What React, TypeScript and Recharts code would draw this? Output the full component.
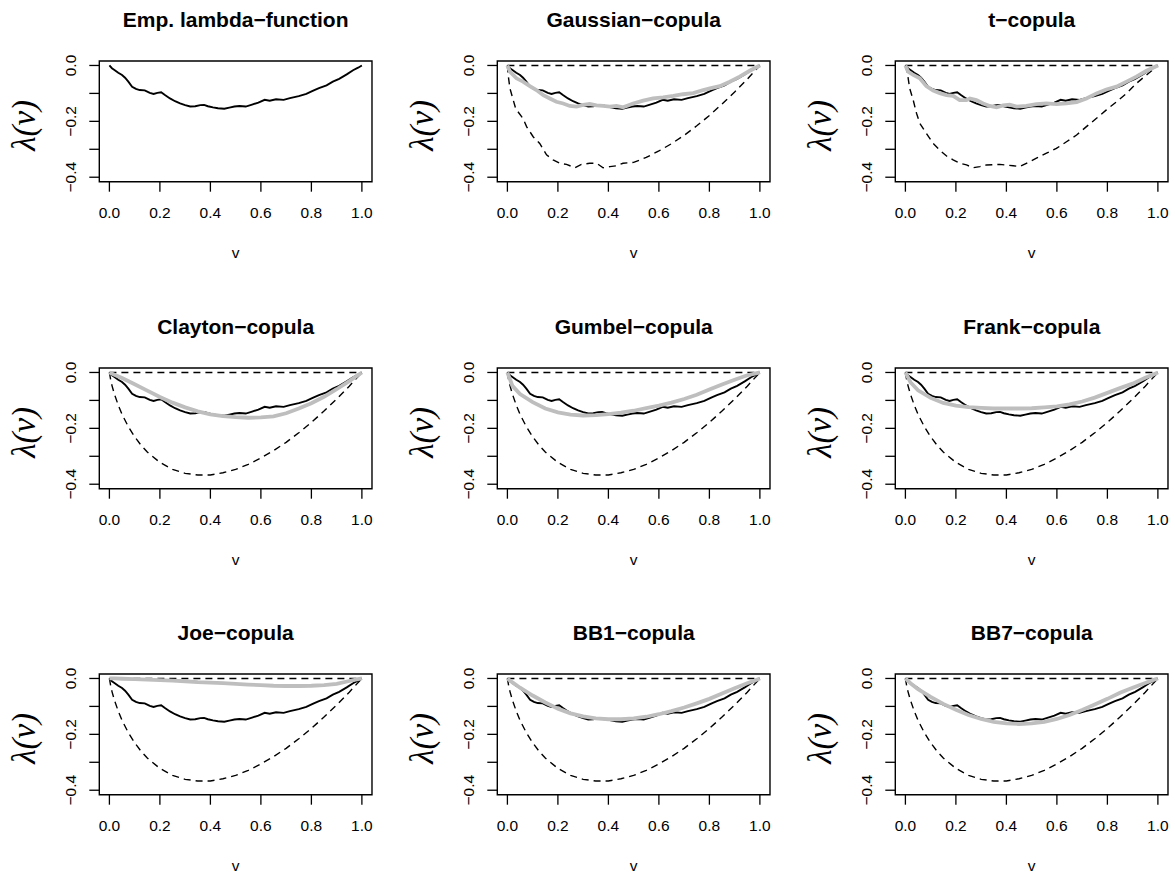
import { LineChart, Line, XAxis, YAxis, ReferenceArea, Label } from 'recharts';

const vTicks = [0, 0.2, 0.4, 0.6, 0.8, 1];
const lambdaTicks = [-0.4, -0.3, -0.2, -0.1, 0];
const titles = [
  'Emp. lambda\u2212function', 'Gaussian\u2212copula', 't\u2212copula',
  'Clayton\u2212copula', 'Gumbel\u2212copula', 'Frank\u2212copula',
  'Joe\u2212copula', 'BB1\u2212copula', 'BB7\u2212copula',
];

// empirical lambda-function (same black line in every panel)
const empV = [0, 0.01, 0.02, 0.035, 0.05, 0.062, 0.075, 0.09, 0.105, 0.12, 0.14, 0.16, 0.175, 0.19, 0.205, 0.22, 0.24, 0.26, 0.28, 0.3, 0.32, 0.34, 0.36, 0.375, 0.39, 0.41, 0.43, 0.455, 0.475, 0.495, 0.515, 0.54, 0.565, 0.59, 0.615, 0.635, 0.66, 0.69, 0.715, 0.75, 0.78, 0.805, 0.83, 0.86, 0.885, 0.91, 0.94, 0.965, 0.985, 1];
const empLambda = [0, -0.01, -0.016, -0.026, -0.034, -0.044, -0.058, -0.076, -0.084, -0.088, -0.089, -0.098, -0.102, -0.098, -0.096, -0.106, -0.118, -0.128, -0.136, -0.142, -0.147, -0.146, -0.142, -0.141, -0.146, -0.15, -0.153, -0.155, -0.151, -0.147, -0.145, -0.147, -0.14, -0.133, -0.123, -0.126, -0.121, -0.123, -0.117, -0.11, -0.102, -0.091, -0.081, -0.071, -0.058, -0.048, -0.032, -0.017, -0.008, 0];

// upper bound (independence) and lower bound (comonotonic)
const upperV = [0, 1];
const upperLambda = [0, 0];
const lowerV = [0, 0.005, 0.01, 0.02, 0.035, 0.05, 0.075, 0.1, 0.125, 0.15, 0.2, 0.25, 0.3, 0.35, 0.4, 0.45, 0.5, 0.55, 0.6, 0.65, 0.7, 0.75, 0.8, 0.85, 0.9, 0.95, 1];
const lowerLambda = [0, -0.026, -0.046, -0.078, -0.117, -0.15, -0.194, -0.23, -0.26, -0.285, -0.322, -0.347, -0.361, -0.367, -0.367, -0.359, -0.347, -0.329, -0.306, -0.28, -0.25, -0.216, -0.179, -0.138, -0.095, -0.049, 0];

// simulated lower curves in the elliptical panels
const gaussLowerV = [0, 0.003, 0.01, 0.033, 0.062, 0.076, 0.102, 0.128, 0.155, 0.181, 0.208, 0.234, 0.267, 0.293, 0.326, 0.353, 0.379, 0.406, 0.432, 0.458, 0.5, 0.55, 0.6, 0.65, 0.7, 0.75, 0.8, 0.85, 0.9, 0.95, 1];
const gaussLowerLambda = [0, -0.034, -0.082, -0.155, -0.19, -0.219, -0.255, -0.279, -0.32, -0.338, -0.35, -0.354, -0.366, -0.354, -0.35, -0.35, -0.366, -0.362, -0.359, -0.35, -0.347, -0.329, -0.306, -0.28, -0.25, -0.216, -0.179, -0.138, -0.095, -0.049, 0];
const tLowerV = [0, 0.008, 0.017, 0.031, 0.044, 0.057, 0.083, 0.11, 0.136, 0.163, 0.189, 0.215, 0.242, 0.268, 0.295, 0.321, 0.374, 0.427, 0.453, 0.479, 0.519, 0.559, 0.598, 0.638, 0.678, 0.717, 0.757, 0.796, 0.836, 0.876, 0.915, 0.955, 1];
const tLowerLambda = [0, -0.028, -0.082, -0.124, -0.171, -0.207, -0.243, -0.279, -0.303, -0.324, -0.338, -0.35, -0.356, -0.366, -0.362, -0.356, -0.354, -0.359, -0.362, -0.35, -0.332, -0.314, -0.297, -0.273, -0.249, -0.219, -0.189, -0.159, -0.13, -0.1, -0.064, -0.034, 0];

// fitted copula lambda-functions (grey)
const gaussFitV = [0, 0.01, 0.036, 0.062, 0.089, 0.115, 0.142, 0.168, 0.194, 0.221, 0.247, 0.274, 0.3, 0.326, 0.353, 0.379, 0.406, 0.432, 0.458, 0.472, 0.498, 0.538, 0.577, 0.617, 0.657, 0.696, 0.736, 0.776, 0.802, 0.841, 0.881, 0.92, 0.96, 1];
const gaussFitLambda = [0, -0.022, -0.046, -0.058, -0.074, -0.088, -0.106, -0.118, -0.13, -0.136, -0.145, -0.147, -0.141, -0.138, -0.143, -0.145, -0.147, -0.145, -0.15, -0.145, -0.136, -0.126, -0.118, -0.114, -0.109, -0.103, -0.099, -0.088, -0.082, -0.074, -0.058, -0.04, -0.019, 0];
const tFitV = [0, 0.011, 0.031, 0.057, 0.083, 0.11, 0.136, 0.163, 0.189, 0.215, 0.242, 0.255, 0.281, 0.308, 0.334, 0.361, 0.387, 0.413, 0.44, 0.479, 0.519, 0.559, 0.598, 0.638, 0.678, 0.717, 0.757, 0.796, 0.836, 0.876, 0.915, 0.955, 1];
const tFitLambda = [0, -0.022, -0.034, -0.046, -0.074, -0.09, -0.099, -0.106, -0.109, -0.124, -0.124, -0.118, -0.124, -0.136, -0.145, -0.15, -0.143, -0.14, -0.147, -0.145, -0.138, -0.136, -0.138, -0.136, -0.131, -0.118, -0.1, -0.086, -0.076, -0.058, -0.04, -0.019, 0];

const fitV = [0, 0.02, 0.05, 0.1, 0.15, 0.2, 0.25, 0.3, 0.35, 0.4, 0.45, 0.5, 0.55, 0.6, 0.65, 0.7, 0.75, 0.8, 0.85, 0.9, 0.95, 0.98, 1];
const claytonFit = [0, -0.008, -0.02, -0.042, -0.065, -0.088, -0.108, -0.125, -0.139, -0.15, -0.156, -0.16, -0.162, -0.161, -0.157, -0.146, -0.129, -0.11, -0.087, -0.06, -0.031, -0.012, 0];
const gumbelFit = [0, -0.048, -0.077, -0.106, -0.129, -0.143, -0.151, -0.154, -0.153, -0.149, -0.144, -0.137, -0.128, -0.119, -0.108, -0.095, -0.08, -0.061, -0.043, -0.026, -0.01, -0.004, 0];
const frankFit = [0, -0.035, -0.064, -0.091, -0.109, -0.119, -0.124, -0.127, -0.129, -0.129, -0.129, -0.128, -0.125, -0.121, -0.114, -0.104, -0.09, -0.073, -0.056, -0.04, -0.019, -0.008, 0];
const joeFit = [0, 0, -0.001, -0.002, -0.004, -0.006, -0.008, -0.01, -0.013, -0.015, -0.017, -0.019, -0.022, -0.024, -0.026, -0.027, -0.027, -0.026, -0.024, -0.019, -0.009, -0.003, 0];
const bb1Fit = [0, -0.014, -0.033, -0.061, -0.086, -0.108, -0.125, -0.136, -0.143, -0.146, -0.146, -0.143, -0.137, -0.128, -0.117, -0.104, -0.089, -0.073, -0.054, -0.035, -0.017, -0.007, 0];
const bb7Fit = [0, -0.017, -0.038, -0.066, -0.091, -0.112, -0.131, -0.145, -0.155, -0.161, -0.163, -0.161, -0.155, -0.145, -0.131, -0.113, -0.093, -0.073, -0.051, -0.033, -0.016, -0.006, 0];

type Pt = { v: number; lambda: number };
const zip = (vs: number[], ls: number[]): Pt[] => vs.map((v, i) => ({ v, lambda: ls[i] }));

const emp = zip(empV, empLambda);
const upper = zip(upperV, upperLambda);
const lower = zip(lowerV, lowerLambda);

const panels: { lower?: Pt[]; fit?: Pt[] }[] = [
  {},
  { lower: zip(gaussLowerV, gaussLowerLambda), fit: zip(gaussFitV, gaussFitLambda) },
  { lower: zip(tLowerV, tLowerLambda), fit: zip(tFitV, tFitLambda) },
  { lower, fit: zip(fitV, claytonFit) },
  { lower, fit: zip(fitV, gumbelFit) },
  { lower, fit: zip(fitV, frankFit) },
  { lower, fit: zip(fitV, joeFit) },
  { lower, fit: zip(fitV, bb1Fit) },
  { lower, fit: zip(fitV, bb7Fit) },
];

const SANS = '"Liberation Sans", Arial, Helvetica, sans-serif';
const SERIF = '"Liberation Serif", "DejaVu Serif", serif';
const tickStyle = { fontSize: '15.5px', fontFamily: SANS };
const PANEL_W = 398.1;
const PANEL_H = 306.67;
const BOX_LEFT = 99.3;
const BOX_TOP = 61;
const BOX_W = 272.7;
const BOX_H = 120.7;
const Y_AXIS_W = 40;
const X_AXIS_H = 40;

const fmt = (n: number) => (n < 0 ? '\u2212' : '') + Math.abs(n).toFixed(1);

const XTick = (props: any) => {
  const { x, y, payload } = props;
  return (
    <text x={x} y={y} dy={24.3} textAnchor="middle" style={tickStyle} fill="#000">
      {fmt(payload.value)}
    </text>
  );
};

const YTick = (props: any) => {
  const { x, y, payload } = props;
  if (Math.round(Math.abs(payload.value) * 10) % 2 !== 0) return <g />;
  const bx = x - 11.3;
  return (
    <text x={bx} y={y} transform={`rotate(-90 ${bx} ${y})`} textAnchor="middle" style={tickStyle} fill="#000">
      {fmt(payload.value)}
    </text>
  );
};

const XLabel = (props: any) => {
  const { viewBox } = props;
  return (
    <text x={viewBox.x + viewBox.width / 2} y={viewBox.y + 76.6} textAnchor="middle" style={tickStyle} fill="#000">
      v
    </text>
  );
};

const YLabel = (props: any) => {
  const { viewBox } = props;
  const bx = viewBox.x + viewBox.width - 64;
  const cy = viewBox.y + viewBox.height / 2 + 4;
  return (
    <text
      x={bx} y={cy} transform={`rotate(-90 ${bx} ${cy})`} textAnchor="middle"
      style={{ fontSize: '33px', fontStyle: 'italic', fontFamily: SERIF }} fill="#000"
    >
      {'\u03bb(v)'}
    </text>
  );
};

function Panel({ index }: { index: number }) {
  const col = index % 3;
  const row = Math.floor(index / 3);
  const p = panels[index];
  return (
    <div style={{ position: 'absolute', left: col * PANEL_W, top: row * PANEL_H, width: PANEL_W, height: PANEL_H }}>
      <div
        style={{
          position: 'absolute', left: BOX_LEFT - 50, width: BOX_W + 100, top: 8.9,
          fontSize: 21, lineHeight: '21px', fontWeight: 'bold', textAlign: 'center',
          fontFamily: SANS, whiteSpace: 'nowrap', color: '#000',
        }}
      >
        {titles[index]}
      </div>
      <LineChart
        width={PANEL_W}
        height={PANEL_H}
        margin={{
          top: BOX_TOP,
          left: BOX_LEFT - Y_AXIS_W,
          right: PANEL_W - BOX_LEFT - BOX_W,
          bottom: PANEL_H - BOX_TOP - BOX_H - X_AXIS_H,
        }}
      >
        <XAxis
          type="number" dataKey="v" domain={[-0.04, 1.04]} ticks={vTicks} allowDataOverflow
          axisLine={false} tickSize={10} tickLine={{ stroke: '#000', strokeWidth: 1.3 }}
          tick={<XTick />} height={X_AXIS_H} interval={0}
        >
          <Label content={<XLabel />} />
        </XAxis>
        <YAxis
          type="number" dataKey="lambda" domain={[-0.416, 0.016]} ticks={lambdaTicks} allowDataOverflow
          axisLine={false} tickSize={10} tickLine={{ stroke: '#000', strokeWidth: 1.3 }}
          tick={<YTick />} width={Y_AXIS_W} interval={0}
        >
          <Label content={<YLabel />} />
        </YAxis>
        <ReferenceArea x1={-0.04} x2={1.04} y1={-0.416} y2={0.016} fill="none" fillOpacity={0} stroke="#000" strokeWidth={1.4} ifOverflow="visible" />
        {p.lower && (
          <Line data={upper} dataKey="lambda" type="linear" stroke="#000" strokeWidth={1.4} strokeDasharray="7 5" dot={false} activeDot={false} isAnimationActive={false} />
        )}
        {p.lower && (
          <Line data={p.lower} dataKey="lambda" type="linear" stroke="#000" strokeWidth={1.4} strokeDasharray="7 5" dot={false} activeDot={false} isAnimationActive={false} />
        )}
        <Line data={emp} dataKey="lambda" type="linear" stroke="#000" strokeWidth={1.9} dot={false} activeDot={false} isAnimationActive={false} />
        {p.fit && (
          <Line data={p.fit} dataKey="lambda" type="linear" stroke="#bebebe" strokeWidth={3.8} dot={false} activeDot={false} isAnimationActive={false} />
        )}
      </LineChart>
    </div>
  );
}

export default function App() {
  return (
    <div style={{ position: 'absolute', left: 0, top: 0, width: 1175, height: 876, overflow: 'hidden', background: '#fff' }}>
      {titles.map((_, i) => (
        <Panel key={i} index={i} />
      ))}
    </div>
  );
}
